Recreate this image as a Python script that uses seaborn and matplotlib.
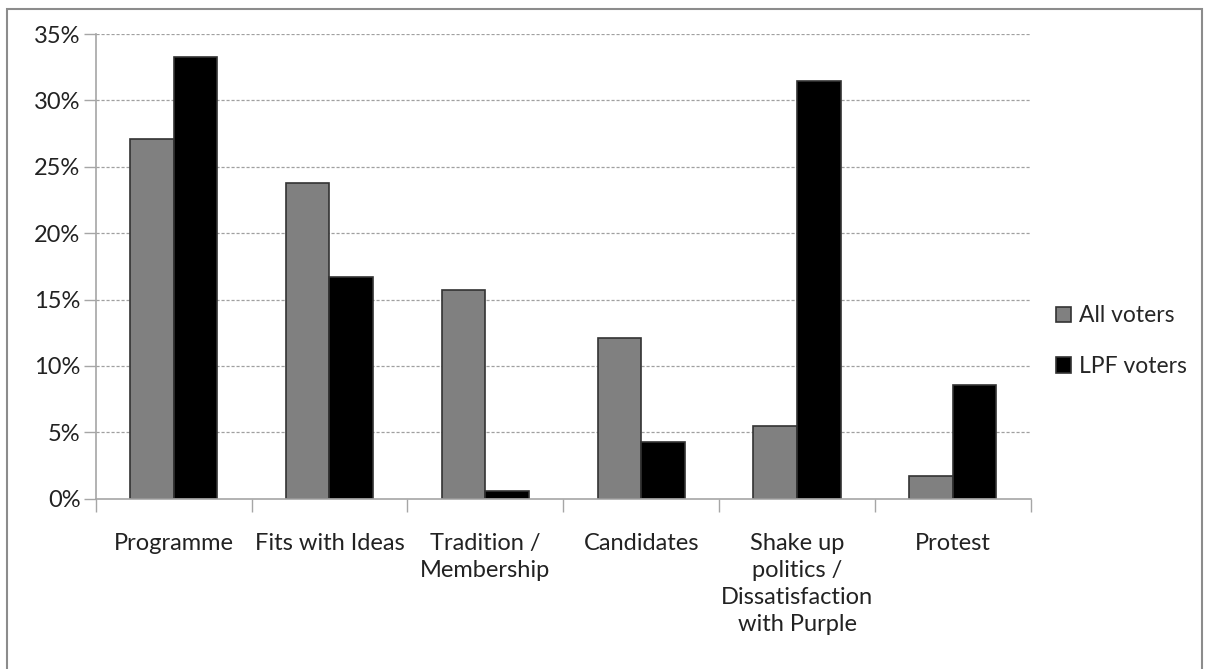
import pandas as pd
import matplotlib.pyplot as plt
import matplotlib.patches as mpatches
import seaborn as sns

categories = ["Programme", "Fits with Ideas", "Tradition /\nMembership", "Candidates",
              "Shake up\npolitics /\nDissatisfaction\nwith Purple", "Protest"]
all_voters = [27.1, 23.8, 15.7, 12.1, 5.5, 1.7]
lpf_voters = [33.3, 16.7, 0.6, 4.3, 31.5, 8.6]
groups = ["All voters", "LPF voters"]
y_ticks = [0, 5, 10, 15, 20, 25, 30, 35]

df = pd.DataFrame({
    "Reason": categories * 2,
    "Group": [groups[0]] * len(categories) + [groups[1]] * len(categories),
    "Share": all_voters + lpf_voters,
})

sns.set_style("white")
plt.rcParams['font.family'] = ['Lato', 'DejaVu Sans']

fig = plt.figure(figsize=(12.07, 6.69), dpi=100)
ax = fig.add_axes([0.0793, 0.2546, 0.7747, 0.6945])

sns.barplot(data=df, x="Reason", y="Share", hue="Group", order=categories,
            hue_order=groups, palette=["#808080", "#000000"], width=0.56,
            edgecolor="#333333", linewidth=1.2, ax=ax)

ax.set_ylim(0, 35)
ax.set_xlim(-0.5, len(categories) - 0.5)
ax.set_yticks(y_ticks)
ax.set_yticklabels([f"{t}%" for t in y_ticks], fontsize=17, color="#222222")
ax.set_xticks(range(len(categories)))
ax.set_xticklabels(categories, fontsize=17, color="#222222", linespacing=1.35)
ax.set_xlabel("")
ax.set_ylabel("")

# dashed horizontal gridlines
for t in y_ticks[1:]:
    ax.axhline(t, color="#a0a0a0", linestyle=(0, (2.5, 1.5)), linewidth=0.9, zorder=0)
ax.set_axisbelow(True)

for side in ["top", "right"]:
    ax.spines[side].set_visible(False)
for side in ["left", "bottom"]:
    ax.spines[side].set_color("#a6a6a6")
    ax.spines[side].set_linewidth(1.2)

ax.tick_params(axis="y", length=9, width=1, color="#a6a6a6", pad=2, left=True)
ax.tick_params(axis="x", length=0, pad=25)
# category boundary ticks on x axis
ax.set_xticks([i - 0.5 for i in range(len(categories) + 1)], minor=True)
ax.tick_params(axis="x", which="minor", length=9, width=1, color="#a6a6a6", bottom=True)

handles, labels = ax.get_legend_handles_labels()
ax.legend(handles, labels, loc="center left", bbox_to_anchor=(0.8575, 0.49),
          bbox_transform=fig.transFigure, frameon=False, fontsize=16.5,
          handlelength=0.65, handleheight=0.65, handletextpad=0.35, labelspacing=1.3)

# outer chart border
fig.patches.append(mpatches.Rectangle((7 / 1207, -0.05), 1195 / 1207, 1 - 9 / 669 + 0.05,
                                      transform=fig.transFigure, fill=False,
                                      edgecolor="#8c8c8c", linewidth=1.5))

fig.savefig("out.png", dpi=100)
